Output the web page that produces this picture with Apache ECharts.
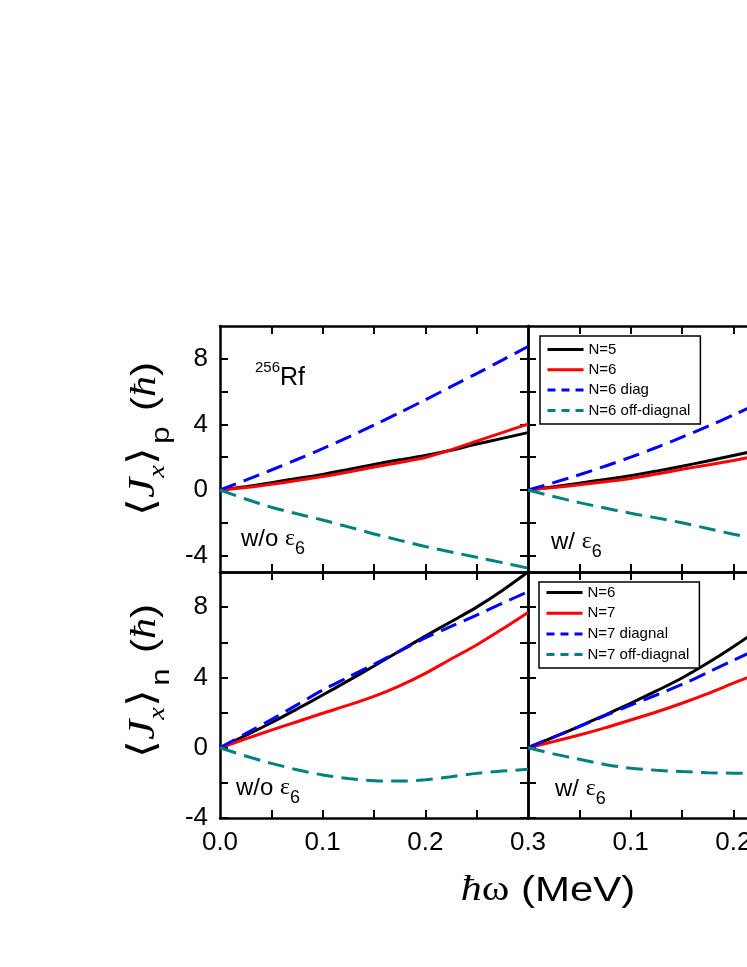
<!DOCTYPE html>
<html><head><meta charset="utf-8">
<script src="https://cdn.jsdelivr.net/npm/echarts@6/dist/echarts.min.js"></script>
<style>html,body{margin:0;padding:0;background:#fff}#c{width:747px;height:967px}</style>
</head><body><div id="c"></div>
<script>
// ---- data ----
const xVals = [0, 0.025, 0.05, 0.075, 0.1, 0.125, 0.15, 0.175, 0.2, 0.225, 0.25, 0.275, 0.3];
// proton, w/o eps6 (top-left)
const pWoN5    = [0, 0.2, 0.45, 0.7, 0.95, 1.25, 1.56, 1.84, 2.1, 2.42, 2.8, 3.15, 3.5];
const pWoN6    = [0, 0.15, 0.35, 0.58, 0.82, 1.1, 1.4, 1.68, 1.98, 2.45, 2.98, 3.5, 4.02];
const pWoDiag  = [0, 0.6, 1.22, 1.86, 2.52, 3.22, 3.96, 4.72, 5.5, 6.3, 7.1, 7.92, 8.75];
const pWoOff   = [0, -0.55, -1.05, -1.45, -1.83, -2.25, -2.68, -3.07, -3.45, -3.78, -4.1, -4.43, -4.76];
// proton, w/ eps6 (top-right)
const pWN5     = [0, 0.2, 0.42, 0.64, 0.87, 1.15, 1.45, 1.77, 2.1, 2.45, 2.8, 3.2, 3.6];
const pWN6     = [0, 0.15, 0.32, 0.5, 0.7, 0.97, 1.26, 1.53, 1.8, 2.1, 2.4, 2.75, 3.1];
const pWDiag   = [0, 0.45, 0.93, 1.45, 2.0, 2.59, 3.22, 3.88, 4.57, 5.31, 6.08, 6.88, 7.72];
const pWOff    = [0, -0.4, -0.77, -1.1, -1.42, -1.7, -2.0, -2.35, -2.7, -3.0, -3.3, -3.6, -3.9];
// neutron, w/o eps6 (bottom-left)
const nWoN6    = [0, 0.7, 1.42, 2.2, 3.0, 3.82, 4.65, 5.5, 6.35, 7.17, 8.0, 8.95, 10.0];
const nWoN7    = [0, 0.5, 1.0, 1.48, 1.96, 2.42, 2.92, 3.52, 4.23, 5.05, 5.85, 6.75, 7.7];
const nWoDiag  = [0, 0.8, 1.6, 2.44, 3.28, 4.02, 4.75, 5.5, 6.25, 6.9, 7.55, 8.22, 8.88];
const nWoOff   = [0, -0.47, -0.89, -1.25, -1.55, -1.75, -1.88, -1.9, -1.82, -1.65, -1.46, -1.33, -1.23];
// neutron, w/ eps6 (bottom-right)
const nWN6     = [0, 0.6, 1.22, 1.86, 2.53, 3.23, 3.97, 4.82, 5.75, 6.75, 7.8, 8.9, 10.05];
const nWN7     = [0, 0.35, 0.72, 1.13, 1.58, 2.03, 2.53, 3.08, 3.67, 4.25, 4.85, 5.5, 6.15];
const nWDiag   = [0, 0.6, 1.2, 1.82, 2.42, 3.0, 3.6, 4.28, 4.98, 5.65, 6.35, 7.05, 7.75];
const nWOff    = [0, -0.35, -0.66, -0.95, -1.17, -1.28, -1.36, -1.42, -1.45, -1.46, -1.46, -1.45, -1.44];

const xTickVals = [0.05, 0.1, 0.15, 0.2, 0.25];
const xLabelsLeft = [0, 0.1, 0.2, 0.3];
const xLabelsRight = [0.1, 0.2, 0.3];
const yTickVals = [-4, -2, 0, 2, 4, 6, 8];
const yLabelVals = [-4, 0, 4, 8];
const topNames = ['N=5', 'N=6', 'N=6 diag', 'N=6 off-diagnal'];
const botNames = ['N=6 ', 'N=7', 'N=7 diagnal', 'N=7 off-diagnal'];

// ---- styles ----
const BLACK = '#000000', RED = '#ff0000', BLUE = '#0000ff', TEAL = '#008080';
const SANS = 'Liberation Sans, Arial, sans-serif';
const SERIF = 'Liberation Serif, Times New Roman, serif';
const AXW = 2.5;

const grids = [
  { left: 220, top: 326, width: 308, height: 246, outerBoundsMode: 'none', containLabel: false },
  { left: 528, top: 326, width: 308, height: 246, outerBoundsMode: 'none', containLabel: false },
  { left: 220, top: 572, width: 308, height: 246, outerBoundsMode: 'none', containLabel: false },
  { left: 528, top: 572, width: 308, height: 246, outerBoundsMode: 'none', containLabel: false }
];

const xAxes = [], yAxes = [];
grids.forEach((g, i) => {
  const isBottom = i >= 2;
  const isLeft = i % 2 === 0;
  const xlab = isBottom ? (isLeft ? xLabelsLeft : xLabelsRight) : [];
  xAxes.push({
    gridIndex: i, type: 'value', min: 0, max: 0.3, position: 'bottom',
    axisLine: { show: true, onZero: false, lineStyle: { color: BLACK, width: AXW } },
    axisTick: { show: true, inside: true, length: 8, customValues: xTickVals, lineStyle: { color: BLACK, width: 2 } },
    axisLabel: { show: xlab.length > 0, customValues: xlab, margin: 12, color: BLACK, fontSize: 26, fontFamily: SANS,
      formatter: v => v.toFixed(1) },
    splitLine: { show: false }
  });
  xAxes.push({
    gridIndex: i, type: 'value', min: 0, max: 0.3, position: 'top',
    axisLine: { show: true, onZero: false, lineStyle: { color: BLACK, width: AXW } },
    axisTick: { show: true, inside: true, length: 8, customValues: xTickVals, lineStyle: { color: BLACK, width: 2 } },
    axisLabel: { show: false }, splitLine: { show: false }
  });
  const ymin = isBottom ? -4 : -5;
  yAxes.push({
    gridIndex: i, type: 'value', min: ymin, max: 10, position: 'left',
    axisLine: { show: true, onZero: false, lineStyle: { color: BLACK, width: AXW } },
    axisTick: { show: true, inside: true, length: 8, customValues: yTickVals, lineStyle: { color: BLACK, width: 2 } },
    axisLabel: { show: isLeft, customValues: yLabelVals, margin: 12, color: BLACK, fontSize: 26, fontFamily: SANS },
    splitLine: { show: false }
  });
  yAxes.push({
    gridIndex: i, type: 'value', min: ymin, max: 10, position: 'right',
    axisLine: { show: true, onZero: false, lineStyle: { color: BLACK, width: AXW } },
    axisTick: { show: true, inside: true, length: 8, customValues: yTickVals, lineStyle: { color: BLACK, width: 2 } },
    axisLabel: { show: false }, splitLine: { show: false }
  });
});

function mk(name, vals, gi, color, dashed) {
  return {
    name, type: 'line', xAxisIndex: 2 * gi, yAxisIndex: 2 * gi,
    data: xVals.map((x, k) => [x, vals[k]]),
    symbol: 'none', smooth: 0.3, clip: true,
    lineStyle: { color, width: 3, type: dashed ? [17, 8] : 'solid' },
    itemStyle: { color }
  };
}

const series = [
  mk(topNames[0], pWoN5, 0, BLACK, false), mk(topNames[1], pWoN6, 0, RED, false),
  mk(topNames[2], pWoDiag, 0, BLUE, true), mk(topNames[3], pWoOff, 0, TEAL, true),
  mk(topNames[0], pWN5, 1, BLACK, false), mk(topNames[1], pWN6, 1, RED, false),
  mk(topNames[2], pWDiag, 1, BLUE, true), mk(topNames[3], pWOff, 1, TEAL, true),
  mk(botNames[0], nWoN6, 2, BLACK, false), mk(botNames[1], nWoN7, 2, RED, false),
  mk(botNames[2], nWoDiag, 2, BLUE, true), mk(botNames[3], nWoOff, 2, TEAL, true),
  mk(botNames[0], nWN6, 3, BLACK, false), mk(botNames[1], nWN7, 3, RED, false),
  mk(botNames[2], nWDiag, 3, BLUE, true), mk(botNames[3], nWOff, 3, TEAL, true)
];

function legendItems(names, colors, dashes) {
  return names.map((n, k) => ({
    name: n,
    lineStyle: { color: colors[k], width: 3, type: dashes[k] ? [8, 6] : 'solid' },
    itemStyle: { color: 'rgba(0,0,0,0)', borderColor: 'rgba(0,0,0,0)', borderWidth: 0, opacity: 0 }
  }));
}
const legendCommon = {
  orient: 'vertical', backgroundColor: '#fff', borderColor: BLACK, borderWidth: 1.5, borderRadius: 0,
  itemWidth: 36, itemHeight: 14, itemGap: 5.3, selectedMode: false,
  textStyle: { color: BLACK, fontSize: 15, fontFamily: SANS },
  formatter: n => n.trim()
};

const subRich = {
  a: { fontSize: 24, fontFamily: SANS, color: BLACK, verticalAlign: 'bottom', padding: [0, 0, 7, 0] },
  e: { fontSize: 24, fontFamily: SERIF, color: BLACK, verticalAlign: 'bottom', padding: [0, 0, 7, 0] },
  b: { fontSize: 18, fontFamily: SANS, color: BLACK, verticalAlign: 'bottom' }
};

function yTitle(cx, cy, sub) {
  return {
    type: 'text', x: cx, y: cy, rotation: Math.PI / 2, scaleX: 1.2, z: 100,
    style: {
      text: '{br|⟨}{j|J}{x|x}{br|⟩}{s|' + sub + '}{n| (}{h|ħ}{n|)}',
      align: 'center', verticalAlign: 'middle',
      rich: {
        br: { fontSize: 38, fontFamily: 'DejaVu Serif, serif', color: BLACK, verticalAlign: 'bottom', padding: [0, 0, 11, 0] },
        j: { fontSize: 38, fontFamily: SERIF, fontStyle: 'italic', color: BLACK, verticalAlign: 'bottom', padding: [0, 0, 11, 0] },
        x: { fontSize: 24, fontFamily: SERIF, fontStyle: 'italic', color: BLACK, verticalAlign: 'bottom', padding: [0, 0, 5, 0] },
        s: { fontSize: 26, fontFamily: SANS, color: BLACK, verticalAlign: 'bottom', padding: [0, 3, 0, 3] },
        n: { fontSize: 35, fontFamily: SANS, color: BLACK, verticalAlign: 'bottom', padding: [0, 0, 11, 0] },
        h: { fontSize: 35, fontFamily: SERIF, fontStyle: 'italic', color: BLACK, verticalAlign: 'bottom', padding: [0, 0, 11, 0] }
      }
    }
  };
}

const option = {
  animation: false,
  backgroundColor: '#ffffff',
  grid: grids,
  xAxis: xAxes,
  yAxis: yAxes,
  series,
  legend: [
    Object.assign({}, legendCommon, {
      left: 540, top: 336, padding: [6, 10, 6, 6],
      data: legendItems(topNames, [BLACK, RED, BLUE, TEAL], [false, false, true, true])
    }),
    Object.assign({}, legendCommon, {
      left: 539, top: 582, padding: [3, 10, 6, 6], itemGap: 5.7,
      data: legendItems(botNames, [BLACK, RED, BLUE, TEAL], [false, false, true, true])
    })
  ],
  graphic: [
    yTitle(150, 439, 'p'),
    yTitle(150, 681, 'n'),
    {
      type: 'text', x: 548, y: 891, scaleX: 1.2, z: 100,
      style: {
        text: '{h|ħ}{w|ω}{n| (MeV)}', align: 'center', verticalAlign: 'middle',
        rich: {
          h: { fontSize: 35, fontFamily: SERIF, fontStyle: 'italic', color: BLACK },
          w: { fontSize: 35, fontFamily: SERIF, color: BLACK },
          n: { fontSize: 35, fontFamily: SANS, color: BLACK }
        }
      }
    },
    {
      type: 'text', x: 255, y: 360, z: 100,
      style: {
        text: '{s|256}{r|Rf}',
        rich: {
          s: { fontSize: 15, fontFamily: SANS, color: BLACK, verticalAlign: 'top' },
          r: { fontSize: 25, fontFamily: SANS, color: BLACK, verticalAlign: 'bottom', padding: [6, 0, 0, 0] }
        }
      }
    },
    { type: 'text', x: 241, y: 527, z: 100, style: { text: '{a|w/o }{e|ε}{b|6}', rich: subRich } },
    { type: 'text', x: 551, y: 530, z: 100, style: { text: '{a|w/ }{e|ε}{b|6}', rich: subRich } },
    { type: 'text', x: 236, y: 776, z: 100, style: { text: '{a|w/o }{e|ε}{b|6}', rich: subRich } },
    { type: 'text', x: 555, y: 777, z: 100, style: { text: '{a|w/ }{e|ε}{b|6}', rich: subRich } }
  ]
};

const chart = echarts.init(document.getElementById('c'), null, { renderer: 'canvas' });
chart.setOption(option);
</script>
</body></html>
